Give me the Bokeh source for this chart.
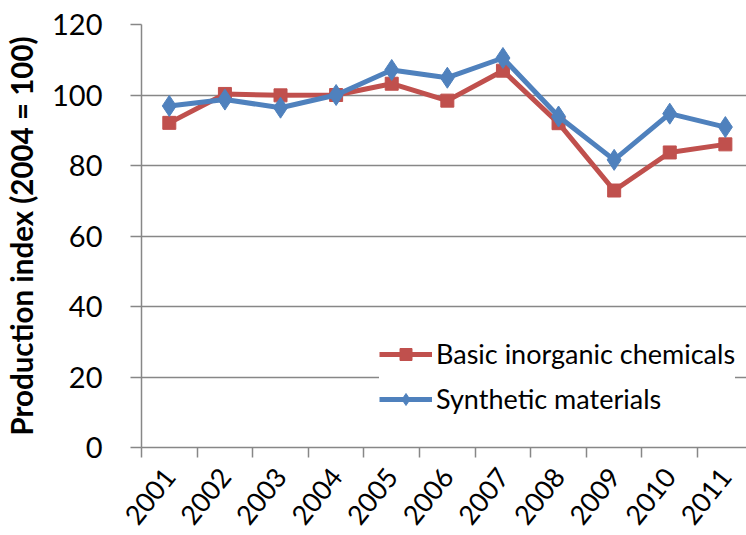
from bokeh.plotting import figure
from bokeh.models import FixedTicker, Range1d, Legend, LegendItem
from bokeh.embed import file_html
from bokeh.resources import INLINE

years = [2001, 2002, 2003, 2004, 2005, 2006, 2007, 2008, 2009, 2010, 2011]
year_labels = [str(y) for y in years]
basic_inorganic = [92.1, 100.3, 99.9, 100.0, 103.2, 98.4, 106.9, 92.0, 72.9, 83.7, 86.0]
synthetic = [96.9, 98.7, 96.4, 100.0, 107.1, 104.9, 110.5, 93.9, 81.6, 94.7, 90.9]
y_ticks = [0, 20, 40, 60, 80, 100, 120]

RED = "#C0504D"
BLUE = "#4F81BD"
GRID = "#878787"
FONT = "Lato"

p = figure(width=746, height=535, output_backend="svg", toolbar_location=None,
           x_range=Range1d(2000.5, 2011.38), y_range=Range1d(0, 120),
           min_border_left=141, min_border_top=24, min_border_bottom=88,
           min_border_right=0)
p.outline_line_color = None
p.background_fill_color = "white"
p.border_fill_color = "white"

# grid
p.xgrid.grid_line_color = None
p.ygrid.grid_line_color = GRID
p.ygrid.grid_line_width = 1.5

# x axis
xa = p.xaxis[0]
xa.ticker = FixedTicker(ticks=years, minor_ticks=[y - 0.5 for y in years] + [2011.5])
xa.major_label_overrides = {y: s for y, s in zip(years, year_labels)}
xa.major_tick_out = 0
xa.major_tick_in = 0
xa.minor_tick_out = 10
xa.minor_tick_in = 0
xa.minor_tick_line_color = GRID
xa.minor_tick_line_width = 1.5
xa.axis_line_color = GRID
xa.axis_line_width = 1.5
xa.major_label_orientation = 0.9
xa.major_label_text_font = FONT
xa.major_label_text_font_size = "27px"
xa.major_label_text_color = "black"
xa.major_label_standoff = 14

# y axis
ya = p.yaxis[0]
ya.ticker = FixedTicker(ticks=y_ticks, minor_ticks=[])
ya.major_tick_out = 11
ya.major_tick_in = 0
ya.major_tick_line_color = GRID
ya.major_tick_line_width = 1.5
ya.axis_line_color = GRID
ya.axis_line_width = 1.5
ya.major_label_text_font = FONT
ya.major_label_text_font_size = "29px"
ya.major_label_text_color = "black"
ya.major_label_standoff = 28
ya.axis_label = "Production index (2004 = 100)"
ya.axis_label_text_font = FONT
ya.axis_label_text_font_style = "bold"
ya.axis_label_text_font_size = "29.5px"
ya.axis_label_text_color = "black"
ya.axis_label_standoff = 10

r1 = p.line(years, basic_inorganic, line_color=RED, line_width=5)
s1 = p.scatter(years, basic_inorganic, marker="square", size=13, fill_color=RED, line_color=RED)
r2 = p.line(years, synthetic, line_color=BLUE, line_width=5)
s2 = p.scatter(years, synthetic, marker="diamond", size=21, fill_color=BLUE, line_color=BLUE)

legend = Legend(items=[
    LegendItem(label="Basic inorganic chemicals", renderers=[r1, s1]),
    LegendItem(label="Synthetic materials", renderers=[r2, s2]),
], location=(238, 32))
legend.border_line_color = None
legend.background_fill_color = "white"
legend.background_fill_alpha = 1.0
legend.label_text_font = FONT
legend.label_text_font_size = "27px"
legend.label_text_color = "black"
legend.glyph_width = 53
legend.glyph_height = 30
legend.label_height = 30
legend.spacing = 12
legend.label_standoff = 4
legend.padding = 18
legend.margin = 0
p.add_layout(legend, "center")

open("out.html", "w").write(file_html(p, INLINE))
